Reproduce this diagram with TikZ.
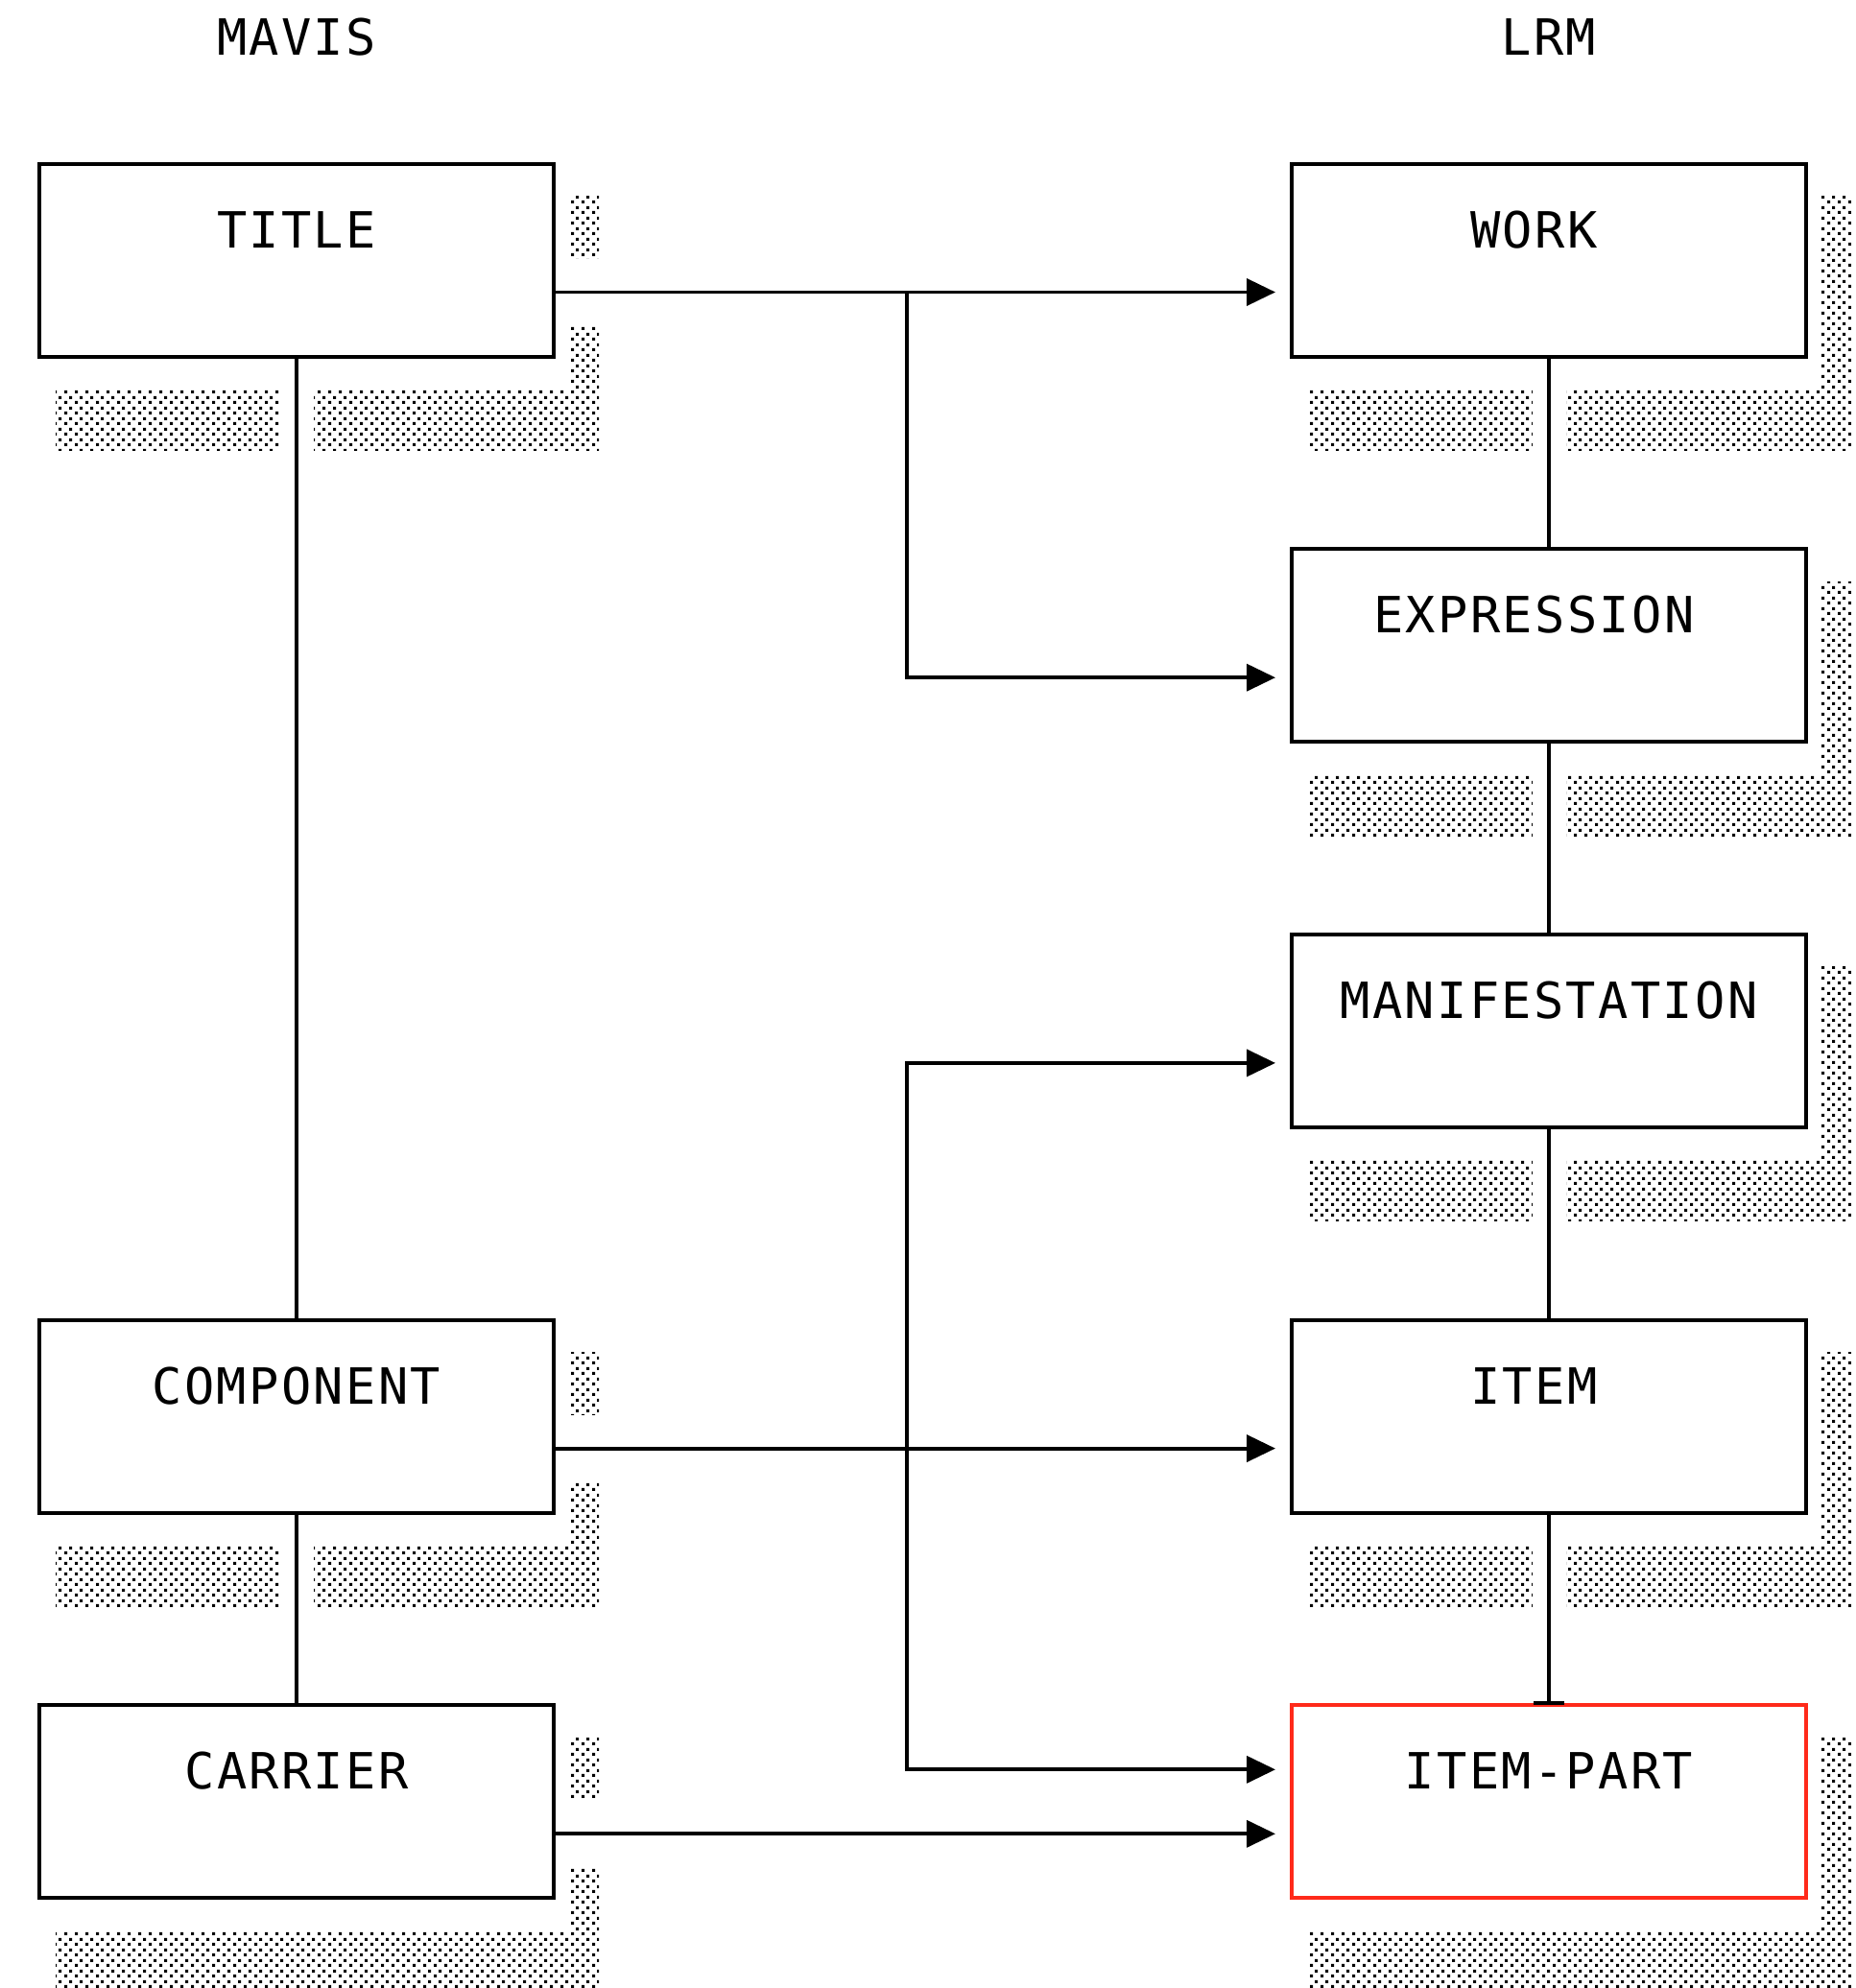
\documentclass[tikz,border=0pt]{standalone}
\usepackage{fontspec}
\usepackage{xcolor}
\usepackage{tikz}
\usetikzlibrary{arrows.meta, positioning, patterns, backgrounds}
\newfontfamily\boxfont[LetterSpace=4.5]{DejaVu Sans Mono}
\definecolor{partred}{HTML}{FF2A1A}
\pgfdeclarepatternformonly{shadowdots}{\pgfqpoint{0pt}{0pt}}{\pgfqpoint{5.5pt}{5.5pt}}{\pgfqpoint{5.5pt}{5.5pt}}{%
  \pgfpathrectangle{\pgfqpoint{0.55pt}{0.55pt}}{\pgfqpoint{1.65pt}{1.65pt}}%
  \pgfpathrectangle{\pgfqpoint{3.3pt}{3.3pt}}{\pgfqpoint{1.65pt}{1.65pt}}%
  \pgfusepath{fill}}

\begin{document}
\begin{tikzpicture}[
    node distance=100.35pt and 384.5pt,
    ent/.style={draw, line width=2pt, fill=white, outer sep=0pt, inner sep=0pt,
      minimum width=268pt, text height=43.75pt, text depth=56.75pt,
      font=\boxfont\fontsize{26pt}{30pt}\selectfont},
    head/.style={anchor=base, inner sep=0pt, font=\boxfont\fontsize{26pt}{30pt}\selectfont},
    rel/.style={line width=1.9pt, -{Triangle[length=15pt, width=14pt]}, shorten >=8.5pt,
      preaction={draw=white, line width=35pt, -, shorten >=10pt, shorten <=2pt}},
    branch/.style={line width=1.9pt, -{Triangle[length=15pt, width=14pt]}, shorten >=8.5pt},
    up/.style={line width=1.9pt,
      preaction={draw=white, line width=17.5pt, -, shorten >=2pt, shorten <=2pt}}
]
    \useasboundingbox (0,0) rectangle (966.5pt,-1036pt);

    % MAVIS
    \node[ent] (title) at (154.5pt,-135.5pt) {TITLE};
    % LRM
    \node[ent, right=of title] (work) {WORK\hphantom{W}};
    \node[ent, below=of work] (expr) {EXPRESSION\hphantom{E}};
    \node[ent, below=of expr] (manif) {MANIFESTATION};
    \node[ent, below=of manif] (item) {ITEM\hphantom{I}};
    \node[ent, below=of item, draw=partred] (part) {ITEM-PART};
    \node[ent, left=of item] (comp) {COMPONENT};
    \node[ent, left=of part] (carrier) {CARRIER};

    \node[head] (mavis) at (title |- 0,-28.9pt) {MAVIS};
    \node[head] (lrm) at (work |- 0,-28.9pt) {LRM};

    % dotted shadows
    \begin{scope}[on background layer]
      \foreach \n in {title,comp,carrier,work,expr,manif,item,part} {
        \fill[pattern=shadowdots] ([shift={(8.5pt,-17pt)}]\n.north west) rectangle ([shift={(23.5pt,-49pt)}]\n.south east);
        \fill[white] (\n.north west) rectangle ([shift={(8pt,-17pt)}]\n.south east);
      }
    \end{scope}

    \coordinate (split1) at ([xshift=184pt, yshift=-16.75pt]title.east);
    \coordinate (split2) at ([xshift=184pt, yshift=-16.75pt]comp.east);

    % hierarchy
    \draw[up] (title) -- (comp);
    \draw[up] (comp) -- (carrier);
    \draw[up] (work) -- (expr);
    \draw[up] (expr) -- (manif);
    \draw[up] (manif) -- (item);
    \draw[up, -{Bar[width=16pt, line width=2.2pt]}] (item) -- (part);

    % mappings
    \draw[rel] ([yshift=-16.75pt]title.east) -- ([yshift=-16.75pt]work.west);
    \draw[branch] (split1) |- ([yshift=-16.75pt]expr.west);
    \draw[rel] ([yshift=-16.75pt]comp.east) -- ([yshift=-16.75pt]item.west);
    \draw[branch] (split2) |- ([yshift=-16.75pt]manif.west);
    \draw[branch] (split2) |- ([yshift=16.75pt]part.west);
    \draw[rel] ([yshift=-16.75pt]carrier.east) -- ([yshift=-16.75pt]part.west);
\end{tikzpicture}
\end{document}
